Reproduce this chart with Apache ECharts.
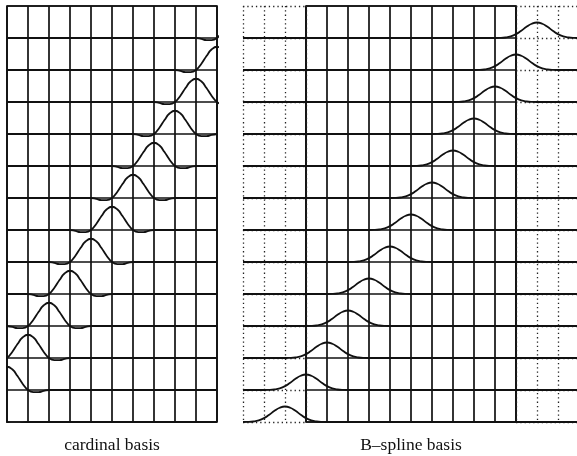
<!DOCTYPE html>
<html>
<head>
<meta charset="utf-8">
<script src="https://cdn.jsdelivr.net/npm/echarts@6/dist/echarts.min.js"></script>
<style>
html,body{margin:0;padding:0;background:#fff;}
#chart{width:577px;height:456px;}
</style>
</head>
<body>
<div id="chart"></div>
<script>
// ---- data ----
const panelTitles = ['cardinal basis', 'B–spline basis'];
const rowCount = 13;
// basis centre (in knot columns) for each row, bottom row first
const cardinalCenters = [-1, 0, 1, 2, 3, 4, 5, 6, 7, 8, 9, 10, 11];
const bsplineCenters = [-1, 0, 1, 2, 3, 4, 5, 6, 7, 8, 9, 10, 11];
// sample positions relative to the centre
const kernelOffsets = [-2, -1.75, -1.5, -1.25, -1, -0.75, -0.5, -0.25, 0, 0.25, 0.5, 0.75, 1, 1.25, 1.5, 1.75, 2];
const cardinalShape = [0, -0.04, -0.09, -0.09, 0, 0.26, 0.6, 0.89, 1, 0.89, 0.6, 0.26, 0, -0.09, -0.09, -0.04, 0];
const bsplineShape = [0, 0.003, 0.021, 0.07, 0.167, 0.315, 0.479, 0.612, 0.667, 0.612, 0.479, 0.315, 0.167, 0.07, 0.021, 0.003, 0];
const leftRange = [0, 10];
const rightRange = [-3, 13];
const innerRange = [0, 10];
const leftExtRange = [-3, 0];
const rightExtRange = [10, 13];

// ---- chart ----
const ROW_UNITS = 1.375; // function units per row height
const INK = '#111';
const TOP = 6, HEIGHT = 416, COL = 21;

function rowData(center, shape, xmin, xmax) {
  const pts = kernelOffsets.map((o, i) => [center + o, shape[i]]);
  if (pts[0][0] > xmin) pts.unshift([xmin, 0]);
  if (pts[pts.length - 1][0] < xmax) pts.push([xmax, 0]);
  return pts;
}

function gridBox(left, cols, framed) {
  return {
    left: left, top: TOP, width: cols * COL, height: HEIGHT,
    outerBoundsMode: 'none', containLabel: false,
    show: framed, borderColor: INK, borderWidth: 1.7
  };
}
const grids = [
  gridBox(7, 10, true),     // 0 cardinal
  gridBox(243, 16, false),  // 1 B-spline data
  gridBox(306, 10, true),   // 2 inner solid grid
  gridBox(243, 3, false),   // 3 left dotted extension
  gridBox(516, 3, false)    // 4 right dotted extension
];

const solidSplit = { show: true, lineStyle: { color: INK, width: 1.7, type: 'solid' } };
const dotSplit = { show: true, lineStyle: { color: '#222', width: 1.3, type: [1.3, 3] } };
const noSplit = { show: false };
const nameStyle = { color: '#111', fontFamily: 'Liberation Serif', fontSize: 17.5 };

function xAx(grid, range, split, name) {
  return {
    type: 'value', gridIndex: grid, min: range[0], max: range[1], interval: 1,
    axisLine: { show: false }, axisTick: { show: false }, axisLabel: { show: false },
    splitLine: split,
    name: name || '', nameLocation: 'middle', nameGap: 14, nameTextStyle: nameStyle
  };
}
const xAxes = [
  xAx(0, leftRange, solidSplit, panelTitles[0]),
  xAx(1, rightRange, noSplit),
  xAx(2, innerRange, solidSplit, panelTitles[1]),
  xAx(3, leftExtRange, dotSplit),
  xAx(4, rightExtRange, dotSplit)
];

function yVis(grid, split) {
  return {
    type: 'value', gridIndex: grid, min: 0, max: rowCount, interval: 1,
    axisLine: { show: false }, axisTick: { show: false }, axisLabel: { show: false },
    splitLine: split
  };
}
const yAxes = [yVis(0, solidSplit), yVis(1, noSplit), yVis(2, solidSplit), yVis(3, dotSplit), yVis(4, dotSplit)];
function yRow(grid, r) {
  return {
    type: 'value', gridIndex: grid, show: false,
    min: -r * ROW_UNITS, max: (rowCount - r) * ROW_UNITS,
    splitLine: { show: false }
  };
}
const series = [];
const leftBase = yAxes.length;
for (let r = 0; r < rowCount; r++) yAxes.push(yRow(0, r));
const rightBase = yAxes.length;
for (let r = 0; r < rowCount; r++) yAxes.push(yRow(1, r));

const lineStyle = { color: INK, width: 1.8 };
for (let r = 0; r < rowCount; r++) {
  series.push({
    type: 'line', xAxisIndex: 0, yAxisIndex: leftBase + r,
    data: rowData(cardinalCenters[r], cardinalShape, leftRange[0], leftRange[1]),
    symbol: 'none', smooth: 0.5, clip: true, lineStyle: lineStyle, z: 5
  });
  series.push({
    type: 'line', xAxisIndex: 1, yAxisIndex: rightBase + r,
    data: rowData(bsplineCenters[r], bsplineShape, rightRange[0], rightRange[1]),
    symbol: 'none', smooth: 0.5, clip: true, lineStyle: lineStyle, z: 5
  });
}

const chart = echarts.init(document.getElementById('chart'), null, { renderer: 'canvas' });
chart.setOption({
  animation: false,
  backgroundColor: '#fff',
  grid: grids,
  xAxis: xAxes,
  yAxis: yAxes,
  series: series
});
</script>
</body>
</html>
